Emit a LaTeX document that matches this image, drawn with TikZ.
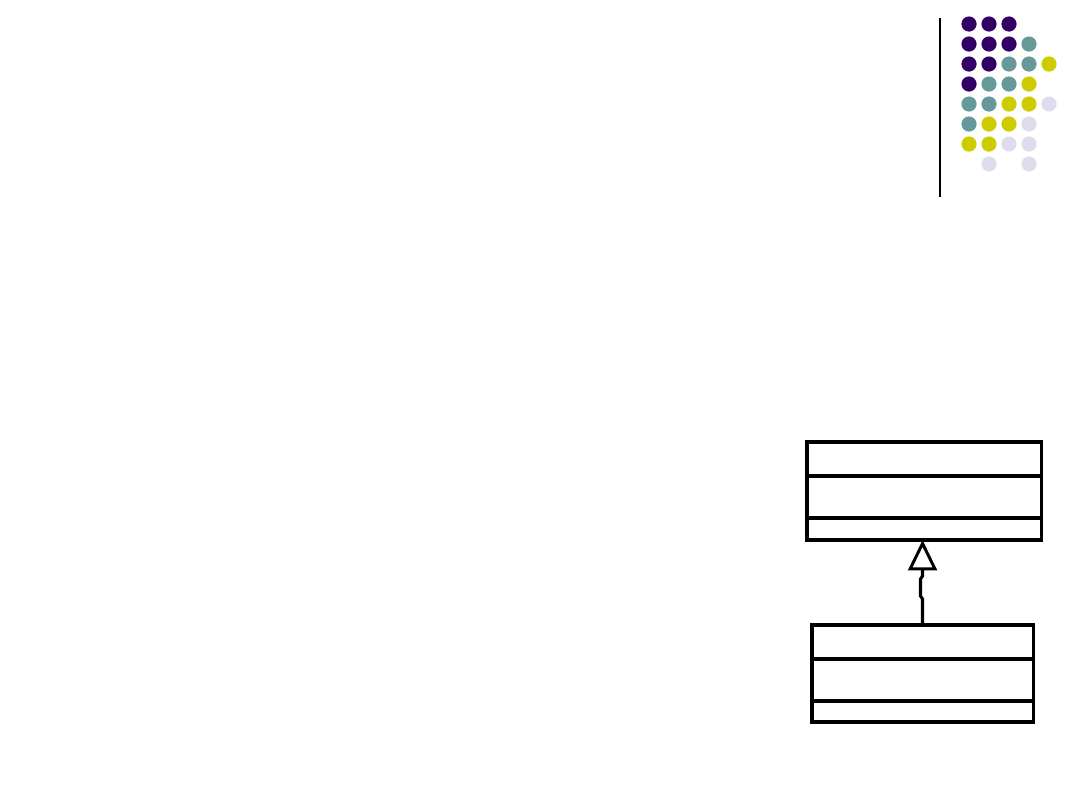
\documentclass[tikz,border=0pt]{standalone}
\usetikzlibrary{arrows.meta,positioning}
\definecolor{dotP}{HTML}{330066}
\definecolor{dotT}{HTML}{669999}
\definecolor{dotY}{HTML}{CCCC00}
\definecolor{dotL}{HTML}{DDDDEE}
\tikzset{
  classbox/.style={draw, rectangle, line width=2.2pt, outer sep=0pt, inner sep=0pt, anchor=north west},
  divider/.style={line width=2.2pt},
  inherit/.style={line width=2.2pt, -{Triangle[open, length=0.76cm, width=0.72cm, line width=2.1pt]}}
}
\begin{document}
\begin{tikzpicture}[x=0.025cm, y=-0.025cm]
  \useasboundingbox (0,0) rectangle (1080,810);
  % corner ornament
  \draw [line width=0.8pt] (940,18) -- (940,197);
  \foreach \line [count=\r] in {{dotP,dotP,dotP},{dotP,dotP,dotP,dotT},{dotP,dotP,dotT,dotT,dotY},{dotP,dotT,dotT,dotY},{dotT,dotT,dotY,dotY,dotL},{dotT,dotY,dotY,dotL},{dotY,dotY,dotL,dotL},{none,dotL,none,dotL}}
    \foreach \col [count=\c] in \line
      \path [fill=\col] (949+20*\c, 4+20*\r) circle [radius=0.19cm];

  % class boxes
  \node [classbox, minimum width=5.85cm, minimum height=2.45cm] (base) at (807,442) {};
  \node [classbox, minimum width=5.525cm, minimum height=2.425cm] (derived) at (812,625) {};
  \foreach \n in {base, derived} {
    \draw [divider] ([yshift=-0.85cm]\n.north west) -- ([yshift=-0.85cm]\n.north east);
    \draw [divider] ([yshift=-1.9cm]\n.north west) -- ([yshift=-1.9cm]\n.north east);
  }

  % generalization
  \draw [inherit] (derived.north) -- ++(0,-26) -- ++(-2,-3) -- ++(0,-17) -- ++(2,-3) -- (base.south -| derived.north);
\end{tikzpicture}
\end{document}
